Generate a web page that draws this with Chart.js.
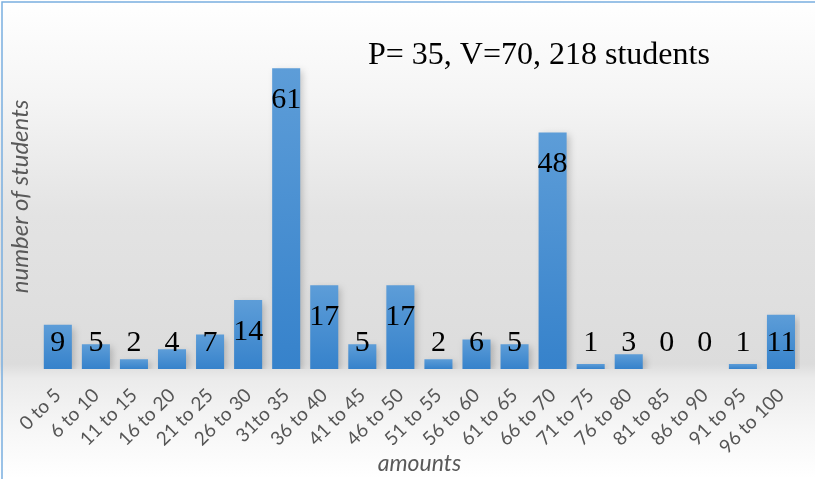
<!DOCTYPE html>
<html>
<head>
<meta charset="utf-8">
<script src="https://cdn.jsdelivr.net/npm/chart.js@4/dist/chart.umd.min.js"></script>
<style>
  html, body { margin: 0; padding: 0; background: #ffffff; }
  canvas { display: block; }
</style>
</head>
<body>
<canvas id="c" width="815" height="479"></canvas>
<script>
// Score bands and how many students fall in each
const categories = ["0 to 5", "6 to 10", "11 to 15", "16 to 20", "21 to 25", "26 to 30", "31to 35",
  "36 to 40", "41 to 45", "46 to 50", "51 to 55", "56 to 60", "61 to 65", "66 to 70",
  "71 to 75", "76 to 80", "81 to 85", "86 to 90", "91 to 95", "96 to 100"];
const students = [9, 5, 2, 4, 7, 14, 61, 17, 5, 17, 2, 6, 5, 48, 1, 3, 0, 0, 1, 11];
const headline = "P= 35, V=70, 218 students";
const xTitle = "amounts";
const yTitle = "number of students";

// Page background: grey band that deepens toward the bar baseline, white at the edges
const backdrop = {
  id: 'backdrop',
  beforeDraw(chart) {
    const { ctx, width, height } = chart;
    ctx.save();
    const g = ctx.createLinearGradient(0, 0, 0, height);
    g.addColorStop(0, '#ffffff');
    g.addColorStop(0.2, '#f5f5f5');
    g.addColorStop(0.45, '#e3e3e3');
    g.addColorStop(0.76, '#dcdcdc');
    g.addColorStop(0.79, '#ebebeb');
    g.addColorStop(0.9, '#f7f7f7');
    g.addColorStop(1, '#ffffff');
    ctx.fillStyle = g;
    ctx.fillRect(0, 0, width, height);
    // thin frame
    ctx.strokeStyle = '#7aaee0';
    ctx.lineWidth = 1.5;
    ctx.strokeRect(2, 2, width + 10, height + 10);
    ctx.restore();
  }
};

// Soft drop shadow under the bars
const barShadow = {
  id: 'barShadow',
  beforeDatasetsDraw(chart) {
    const ctx = chart.ctx;
    ctx.save();
    ctx.shadowColor = 'rgba(0,0,0,0.2)';
    ctx.shadowBlur = 7;
    ctx.shadowOffsetX = 3;
    ctx.shadowOffsetY = 3;
  },
  afterDatasetsDraw(chart) {
    chart.ctx.restore();
  }
};

// Count labels at the inside top of each bar, plus the headline text
const labels = {
  id: 'labels',
  afterDraw(chart) {
    const { ctx } = chart;
    const meta = chart.getDatasetMeta(0);
    const base = chart.scales.y.getPixelForValue(0);
    ctx.save();
    ctx.fillStyle = '#000000';
    ctx.font = '30px "Liberation Serif", "Times New Roman", serif';
    ctx.textAlign = 'center';
    ctx.textBaseline = 'alphabetic';
    meta.data.forEach((bar, i) => {
      const y = Math.min(bar.y + 40, base - 18);
      ctx.fillText(String(students[i]), bar.x, y);
    });
    ctx.font = '32px "Liberation Serif", "Times New Roman", serif';
    ctx.textAlign = 'left';
    ctx.fillText(headline, 368, 64);
    ctx.restore();
  }
};

function barFill(context) {
  const chart = context.chart;
  const ys = chart.scales && chart.scales.y;
  if (!ys || !chart.chartArea) return '#4a90d4';
  const v = students[context.dataIndex];
  const top = ys.getPixelForValue(v);
  const bottom = ys.getPixelForValue(0);
  if (!isFinite(top) || !isFinite(bottom) || bottom - top < 1) return '#4a90d4';
  const g = chart.ctx.createLinearGradient(0, top, 0, bottom);
  g.addColorStop(0, '#5d9dd8');
  g.addColorStop(1, '#3682cb');
  return g;
}

const sans = 'Lato, "Liberation Sans", sans-serif';

new Chart(document.getElementById('c'), {
  type: 'bar',
  data: {
    labels: categories,
    datasets: [{
      data: students,
      backgroundColor: barFill,
      borderWidth: 0,
      categoryPercentage: 1.0,
      barPercentage: 0.737
    }]
  },
  options: {
    responsive: false,
    animation: false,
    devicePixelRatio: 1,
    layout: { padding: { left: 2, right: 15, top: 24, bottom: 0 } },
    plugins: {
      legend: { display: false },
      tooltip: { enabled: false },
      title: { display: false }
    },
    scales: {
      x: {
        afterFit(scale) { scale.height = 110; },
        grid: { display: false, drawTicks: false },
        border: { display: false },
        ticks: {
          color: '#555555',
          font: { family: sans, size: 19 },
          minRotation: 45,
          maxRotation: 45,
          autoSkip: false,
          padding: 15
        },
        title: {
          display: true,
          text: xTitle,
          color: '#595959',
          font: { family: sans, size: 23, style: 'italic' },
          padding: { top: 0, bottom: 2 }
        }
      },
      y: {
        min: 0,
        max: 70,
        grid: { display: false, drawTicks: false },
        border: { display: false },
        ticks: { display: false },
        title: {
          display: true,
          text: yTitle,
          color: '#595959',
          font: { family: sans, size: 24, style: 'italic' },
          padding: { top: 4, bottom: 4 }
        }
      }
    }
  },
  plugins: [backdrop, barShadow, labels]
});
</script>
</body>
</html>
